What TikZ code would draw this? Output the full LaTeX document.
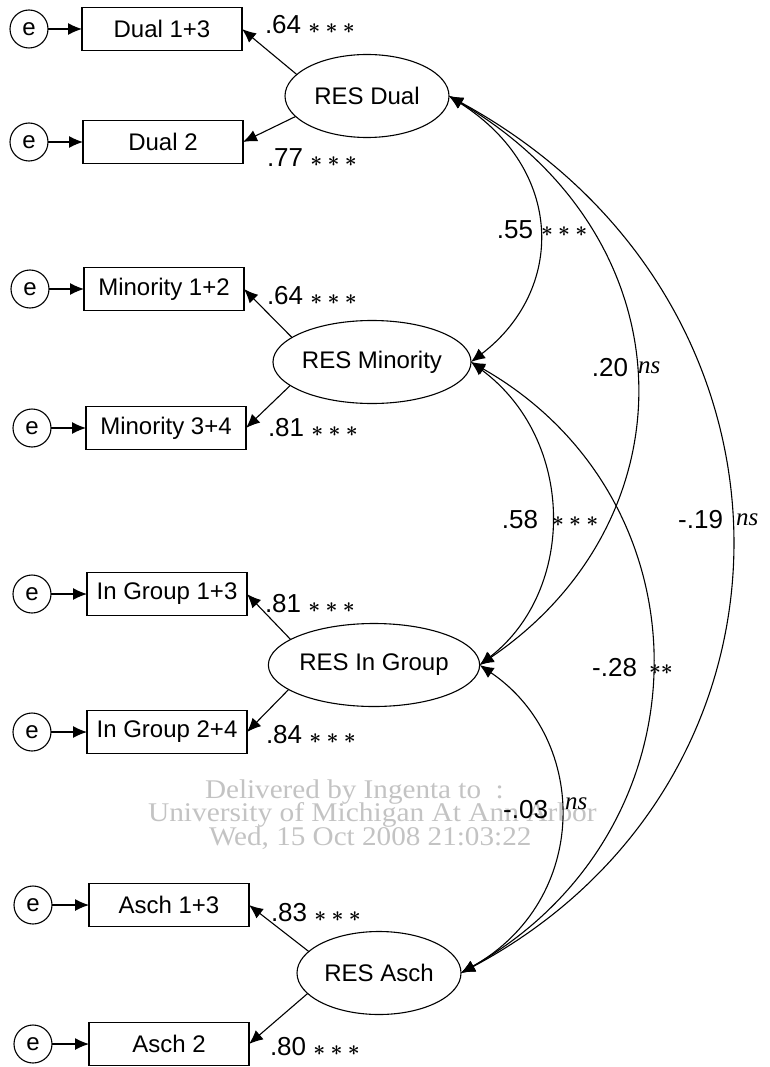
\documentclass[tikz,border=0pt]{standalone}
\usepackage{fontspec}
\setmainfont{Liberation Sans}
\newfontfamily\wmserif{Liberation Serif}
\usetikzlibrary{arrows.meta,shapes.geometric}
\definecolor{wmgray}{RGB}{195,195,195}
\newcommand\sigstars[1]{{\fontsize{22}{24}\selectfont\boldmath$#1$}}
\newcommand\nsmark{{\wmserif\itshape\fontsize{25}{27}\selectfont ns}}
\begin{document}
\begin{tikzpicture}[x=1pt,y=-1pt,
  every node/.style={inner sep=0pt,outer sep=0pt},
  lbl/.style={font=\fontsize{24}{27}\selectfont},
  box/.style={lbl,draw,line width=1.1pt,minimum width=160pt,minimum height=43pt},
  err/.style={lbl,draw,circle,line width=1.1pt,minimum size=38pt},
  lat/.style={lbl,draw,ellipse,line width=1.1pt,minimum width=164pt,minimum height=83pt},
  conn/.style={line width=1.1pt},
  tip/.style={conn,-{Latex[length=14pt,width=12pt]}},
  dtip/.style={conn,{Latex[length=14pt,width=12pt]}-{Latex[length=14pt,width=12pt]}},
  num/.style={font=\fontsize{26}{29}\selectfont},
  wm/.style={font=\wmserif\fontsize{27}{27}\selectfont,text=wmgray,anchor=west}
]
\useasboundingbox (0,0) rectangle (770,1067);

% watermark
\node[wm] (wm1) at (205,792) {\scalebox{1.08}[1]{Delivered by Ingenta to\ \ :}};
\node[wm] (wm2) at (148,815) {\scalebox{1.09}[1]{University of Michigan At Ann Arbor}};
\node[wm] (wm3) at (209,838) {\scalebox{1.08}[1]{Wed, 15 Oct 2008 21:03:22}};

% observed variables
\node[box] (d13) at (162,29) {Dual 1+3};
\node[box] (d2)  at (163,142) {Dual 2};
\node[box] (m12) at (164,289) {Minority 1+2};
\node[box] (m34) at (166,428) {Minority 3+4};
\node[box] (g13) at (167,594) {In Group 1+3};
\node[box] (g24) at (167,732) {In Group 2+4};
\node[box] (a13) at (169,905) {Asch 1+3};
\node[box] (a2)  at (169,1044) {Asch 2};

% error terms
\node[err] (e1) at (29,29) {e};
\node[err] (e2) at (29,142) {e};
\node[err] (e3) at (30,289) {e};
\node[err] (e4) at (32,428) {e};
\node[err] (e5) at (32,594) {e};
\node[err] (e6) at (32,732) {e};
\node[err] (e7) at (33,905) {e};
\node[err] (e8) at (33,1044) {e};

% latent variables
\node[lat] (dual) at (367,96) {RES Dual};
\node[lat] (mino) at (372,362) {RES Minority};
\node[lat] (ingr) at (374,665) {RES In Group};
\node[lat] (asch) at (379,973) {RES Asch};

% error arrows
\draw[tip] (e1) -- (d13);
\draw[tip] (e2) -- (d2);
\draw[tip] (e3) -- (m12);
\draw[tip] (e4) -- (m34);
\draw[tip] (e5) -- (g13);
\draw[tip] (e6) -- (g24);
\draw[tip] (e7) -- (a13);
\draw[tip] (e8) -- (a2);

% loadings
\draw[tip] (dual.163) -- (d13.east);
\draw[tip] (dual.196) -- (d2.east);
\draw[tip] (mino.163) -- (m12.east);
\draw[tip] (mino.196) -- (m34.east);
\draw[tip] (ingr.163) -- (g13.east);
\draw[tip] (ingr.196) -- (g24.east);
\draw[tip] (asch.163) -- (a13.east);
\draw[tip] (asch.196) -- (a2.east);

\node[num,anchor=west] (l1) at (265,25) {.64 \sigstars{\ast\ast\ast}};
\node[num,anchor=west] (l2) at (267,158) {.77 \sigstars{\ast\ast\ast}};
\node[num,anchor=west] (l3) at (267,296) {.64 \sigstars{\ast\ast\ast}};
\node[num,anchor=west] (l4) at (268,428) {.81 \sigstars{\ast\ast\ast}};
\node[num,anchor=west] (l5) at (265,604) {.81 \sigstars{\ast\ast\ast}};
\node[num,anchor=west] (l6) at (266,735) {.84 \sigstars{\ast\ast\ast}};
\node[num,anchor=west] (l7) at (271,913) {.83 \sigstars{\ast\ast\ast}};
\node[num,anchor=west] (l8) at (270,1047) {.80 \sigstars{\ast\ast\ast}};

% correlations
\draw[dtip] (dual.east) .. controls (565,170) and (565,290) .. (mino.east);
\draw[dtip] (dual.east) .. controls (693,240) and (693,520) .. (ingr.east);
\draw[dtip] (dual.east) .. controls (823,300) and (823,780) .. (asch.east);
\draw[dtip] (mino.east) .. controls (576,440) and (576,590) .. (ingr.east);
\draw[dtip] (mino.east) .. controls (713,500) and (713,830) .. (asch.east);
\draw[dtip] (ingr.east) .. controls (590,740) and (590,900) .. (asch.east);

% correlation labels
\node[num,anchor=east] (c1a) at (533,230) {.55};
\node[anchor=west] (c1b) at (541,232) {\sigstars{\ast\ast\ast}};
\node[num,anchor=east] (c2a) at (628,368) {.20};
\node[anchor=west] (c2b) at (638,368) {\nsmark};
\node[num,anchor=east] (c3a) at (538,520) {.58};
\node[anchor=west] (c3b) at (552,522) {\sigstars{\ast\ast\ast}};
\node[num,anchor=east] (c4a) at (723,520) {-.19};
\node[anchor=west] (c4b) at (736,520) {\nsmark};
\node[num,anchor=east] (c5a) at (637,668) {-.28};
\node[anchor=west] (c5b) at (649,670) {\sigstars{\ast\ast}};
\node[num,anchor=east] (c6a) at (548,810) {-.03};
\node[anchor=west] (c6b) at (565,804) {\nsmark};
\end{tikzpicture}
\end{document}
